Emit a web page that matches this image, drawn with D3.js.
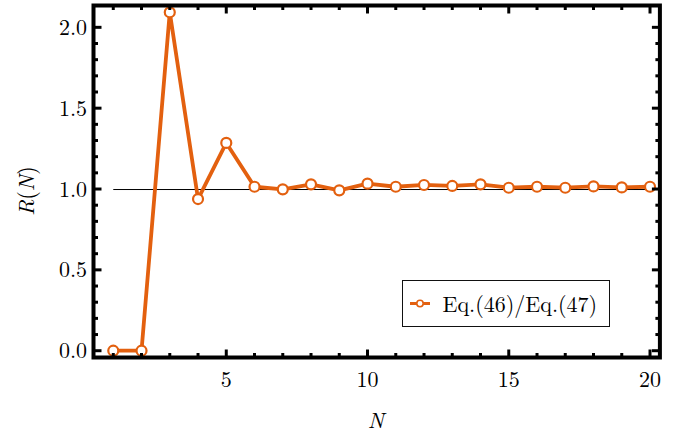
<!DOCTYPE html>
<html lang="en">
<head>
<meta charset="UTF-8">
<title>R(N)</title>
<script src="https://d3js.org/d3.v7.min.js"></script>
<style>
  body { margin: 0; background: #fff; }
  text { font-family: "Latin Modern Roman", "CMU Serif", "Liberation Serif", serif; }
</style>
</head>
<body>
<script>
// data
const nValues = [1, 2, 3, 4, 5, 6, 7, 8, 9, 10, 11, 12, 13, 14, 15, 16, 17, 18, 19, 20];
const rValues = [0.0, 0.0, 2.093, 0.938, 1.285, 1.014, 0.998, 1.029, 0.992, 1.033,
                 1.014, 1.025, 1.019, 1.029, 1.008, 1.014, 1.008, 1.016, 1.010, 1.014];
const xMajorTicks = [5, 10, 15, 20];
const yMajorTicks = [0, 0.5, 1.0, 1.5, 2.0];
const legendLabel = "Eq.(46)/Eq.(47)";
const refLevel = 1.0;

const width = 678, height = 433;
const lineColor = "#e3600f";

const svg = d3.select("body").append("svg")
  .attr("width", width)
  .attr("height", height);

const x = d3.scaleLinear().domain([0.3, 20.35]).range([93.5, 659.9]);
const y = d3.scaleLinear().domain([-0.042, 2.135]).range([357.5, 5.5]);

const x0 = x.range()[0], x1 = x.range()[1];
const y0 = y.range()[0], y1 = y.range()[1];

// reference line at 1
svg.append("line")
  .attr("x1", x(1)).attr("x2", x1)
  .attr("y1", y(refLevel) + 0.5).attr("y2", y(refLevel) + 0.5)
  .attr("stroke", "#000")
  .attr("stroke-width", 1);

// data line
const line = d3.line()
  .x((d, i) => x(nValues[i]))
  .y(d => y(d));

svg.append("path")
  .datum(rValues)
  .attr("d", line)
  .attr("fill", "none")
  .attr("stroke", lineColor)
  .attr("stroke-width", 3.8)
  .attr("stroke-linejoin", "round");

svg.selectAll("circle.pt")
  .data(rValues)
  .enter().append("circle")
  .attr("class", "pt")
  .attr("cx", (d, i) => x(nValues[i]))
  .attr("cy", d => y(d))
  .attr("r", 5)
  .attr("fill", "#fff")
  .attr("stroke", lineColor)
  .attr("stroke-width", 2.2);

// ticks on all four sides, pointing inward
const xMinor = d3.range(1, 21);
const yMinor = d3.range(0, 21).map(d => +(d * 0.1).toFixed(1));
const isMajorX = v => xMajorTicks.includes(v);
const isMajorY = v => yMajorTicks.some(t => Math.abs(t - v) < 1e-9);

const ticks = svg.append("g").attr("stroke", "#000").attr("stroke-width", 3);

xMinor.forEach(v => {
  const len = isMajorX(v) ? 8 : 4.5;
  ticks.append("line").attr("x1", x(v)).attr("x2", x(v)).attr("y1", y0).attr("y2", y0 - len);
  ticks.append("line").attr("x1", x(v)).attr("x2", x(v)).attr("y1", y1).attr("y2", y1 + len);
});
yMinor.forEach(v => {
  const len = isMajorY(v) ? 8 : 4.5;
  ticks.append("line").attr("x1", x0).attr("x2", x0 + len).attr("y1", y(v)).attr("y2", y(v));
  ticks.append("line").attr("x1", x1).attr("x2", x1 - len).attr("y1", y(v)).attr("y2", y(v));
});

// frame
svg.append("rect")
  .attr("x", x0).attr("y", y1)
  .attr("width", x1 - x0).attr("height", y0 - y1)
  .attr("fill", "none")
  .attr("stroke", "#000")
  .attr("stroke-width", 4);

// tick labels
svg.selectAll("text.xl")
  .data(xMajorTicks)
  .enter().append("text")
  .attr("x", d => x(d))
  .attr("y", 386.5)
  .attr("text-anchor", "middle")
  .attr("font-size", 22)
  .text(d => d);

svg.selectAll("text.yl")
  .data(yMajorTicks)
  .enter().append("text")
  .attr("x", 87)
  .attr("y", d => y(d) + 7.5)
  .attr("text-anchor", "end")
  .attr("font-size", 22)
  .text(d => d3.format(".1f")(d));

// axis titles
svg.append("text")
  .attr("x", 376)
  .attr("y", 428)
  .attr("text-anchor", "middle")
  .attr("font-size", 22)
  .attr("font-style", "italic")
  .text("N");

svg.append("text")
  .attr("transform", "translate(34,191) rotate(-90)")
  .attr("text-anchor", "middle")
  .attr("font-size", 22)
  .html('<tspan font-style="italic">R</tspan>(<tspan font-style="italic">N</tspan>)');

// legend
const lg = svg.append("g");
lg.append("rect")
  .attr("x", 402.5).attr("y", 280.5)
  .attr("width", 207).attr("height", 46)
  .attr("fill", "#fff")
  .attr("stroke", "#111")
  .attr("stroke-width", 1);
lg.append("line")
  .attr("x1", 410).attr("x2", 430)
  .attr("y1", 303.5).attr("y2", 303.5)
  .attr("stroke", lineColor)
  .attr("stroke-width", 3);
lg.append("circle")
  .attr("cx", 420).attr("cy", 303.5).attr("r", 3.2)
  .attr("fill", "#fff")
  .attr("stroke", lineColor)
  .attr("stroke-width", 1.6);
lg.append("text")
  .attr("x", 442.5)
  .attr("y", 311.5)
  .attr("font-size", 22)
  .text(legendLabel);
</script>
</body>
</html>
